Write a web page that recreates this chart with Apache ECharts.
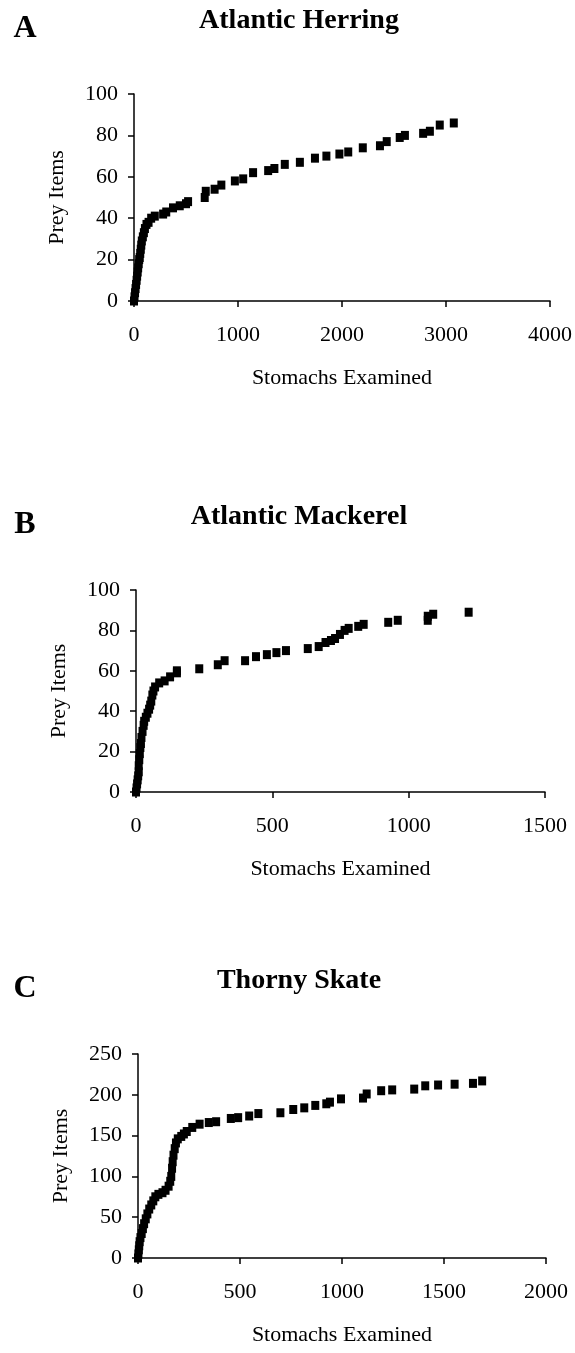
<!DOCTYPE html>
<html>
<head>
<meta charset="utf-8">
<script src="https://cdn.jsdelivr.net/npm/echarts@6/dist/echarts.min.js"></script>
<style>
  html, body { margin: 0; padding: 0; background: #fff; }
  #chart { width: 575px; height: 1353px; }
</style>
</head>
<body>
<div id="chart"></div>
<script>
// Cumulative prey items found vs. number of stomachs examined, per predator species.
const panelLetters = ['A', 'B', 'C'];
const speciesNames = ['Atlantic Herring', 'Atlantic Mackerel', 'Thorny Skate'];
const xAxisTitle = 'Stomachs Examined';
const yAxisTitle = 'Prey Items';

// Atlantic herring: [stomachs examined, prey items]
const herringCurve = [
  [0, 0], [5, 2], [10, 4], [15, 6], [20, 8], [25, 10], [30, 12], [35, 14], [40, 16],
  [45, 18], [50, 20], [55, 21], [60, 23], [65, 25], [70, 27], [75, 29], [85, 31],
  [95, 33], [105, 35], [120, 37], [140, 38], [165, 40], [200, 41], [280, 42],
  [310, 43], [375, 45], [440, 46], [500, 47], [520, 48], [680, 50], [690, 53],
  [775, 54], [840, 56], [970, 58], [1050, 59], [1145, 62], [1290, 63], [1350, 64],
  [1450, 66], [1595, 67], [1740, 69], [1850, 70], [1975, 71], [2060, 72], [2200, 74],
  [2365, 75], [2430, 77], [2555, 79], [2605, 80], [2780, 81], [2845, 82], [2940, 85],
  [3075, 86]
];

// Atlantic mackerel
const mackerelCurve = [
  [0, 0], [2, 2], [4, 4], [6, 6], [8, 8], [10, 10], [10, 13], [12, 16], [14, 19],
  [16, 22], [18, 24], [20, 27], [24, 30], [28, 33], [30, 35], [36, 37], [42, 39],
  [48, 41], [52, 43], [56, 45], [60, 48], [64, 50], [70, 52], [85, 54], [105, 55],
  [125, 57], [150, 59], [150, 60], [232, 61], [300, 63], [325, 65], [400, 65],
  [440, 67], [480, 68], [515, 69], [550, 70], [630, 71], [670, 72], [695, 74],
  [715, 75], [730, 76], [748, 78], [765, 80], [780, 81], [815, 82], [835, 83],
  [925, 84], [960, 85], [1070, 85], [1070, 87], [1090, 88], [1220, 89]
];

// Thorny skate
const skateCurve = [
  [0, 0], [2, 5], [4, 10], [6, 15], [8, 20], [12, 25], [18, 30], [24, 36], [30, 42],
  [38, 48], [46, 54], [55, 60], [65, 65], [75, 70], [85, 75], [100, 78], [120, 80],
  [135, 83], [150, 88], [158, 94], [163, 100], [167, 110], [170, 118], [174, 126],
  [180, 134], [186, 141], [195, 146], [212, 149], [225, 152], [239, 155], [266, 160],
  [302, 164], [347, 166], [383, 167], [455, 171], [491, 172], [545, 174], [590, 177],
  [698, 178], [761, 182], [815, 184], [869, 187], [923, 189], [941, 191], [995, 195],
  [1103, 196], [1121, 201], [1192, 205], [1246, 206], [1354, 207], [1408, 211],
  [1471, 212], [1552, 213], [1642, 214], [1687, 217]
];

// Axis ranges and tick steps
const xMax = [4000, 1500, 2000];
const xStep = [1000, 500, 500];
const yMax = [100, 100, 250];
const yStep = [20, 20, 50];

const curves = [herringCurve, mackerelCurve, skateCurve];

// Plot-area boxes for the three stacked panels
const boxes = [
  { left: 134, top: 94, width: 416, height: 207 },
  { left: 136, top: 590, width: 409, height: 202 },
  { left: 138, top: 1054, width: 408, height: 204 }
];

const serif = '"Liberation Serif", "Times New Roman", serif';
const axisColor = '#000';
const plainNumber = v => String(v);

const grid = [], xAxis = [], yAxis = [], series = [], graphic = [];

boxes.forEach((b, i) => {
  grid.push(Object.assign({ containLabel: false }, b));
  xAxis.push({
    type: 'value', gridIndex: i, min: 0, max: xMax[i], interval: xStep[i],
    name: xAxisTitle, nameLocation: 'middle', nameGap: 66,
    nameTextStyle: { fontFamily: serif, fontSize: 22, color: '#000' },
    axisLine: { show: true, onZero: false, lineStyle: { color: axisColor, width: 1.5 } },
    axisTick: { show: true, inside: false, length: 6, lineStyle: { color: axisColor, width: 1.5 } },
    axisLabel: { fontFamily: serif, fontSize: 22, color: '#000', margin: 23, formatter: plainNumber },
    splitLine: { show: false }
  });
  yAxis.push({
    type: 'value', gridIndex: i, min: 0, max: yMax[i], interval: yStep[i],
    name: yAxisTitle, nameLocation: 'middle', nameGap: 66, nameRotate: 90,
    nameTextStyle: { fontFamily: serif, fontSize: 22, color: '#000' },
    axisLine: { show: true, lineStyle: { color: axisColor, width: 1.5 } },
    axisTick: { show: true, inside: false, length: 6, lineStyle: { color: axisColor, width: 1.5 } },
    axisLabel: { fontFamily: serif, fontSize: 22, color: '#000', margin: 16, formatter: plainNumber },
    splitLine: { show: false }
  });
  series.push({
    type: 'scatter', xAxisIndex: i, yAxisIndex: i,
    symbol: 'rect', symbolSize: [8, 9],
    itemStyle: { color: '#000', opacity: 1 },
    data: curves[i]
  });

  const titleY = b.top - 73;
  graphic.push({
    type: 'text', x: 299, y: titleY,
    style: { text: speciesNames[i], font: 'bold 28px ' + serif, fill: '#000',
             align: 'center', verticalAlign: 'middle' }
  });
  graphic.push({
    type: 'text', x: 25, y: titleY + 8,
    style: { text: panelLetters[i], font: 'bold 32px ' + serif, fill: '#000',
             align: 'center', verticalAlign: 'middle' }
  });
});

const chart = echarts.init(document.getElementById('chart'), null, { renderer: 'canvas' });
chart.setOption({
  backgroundColor: '#fff',
  animation: false,
  grid, xAxis, yAxis, series, graphic
});
</script>
</body>
</html>
